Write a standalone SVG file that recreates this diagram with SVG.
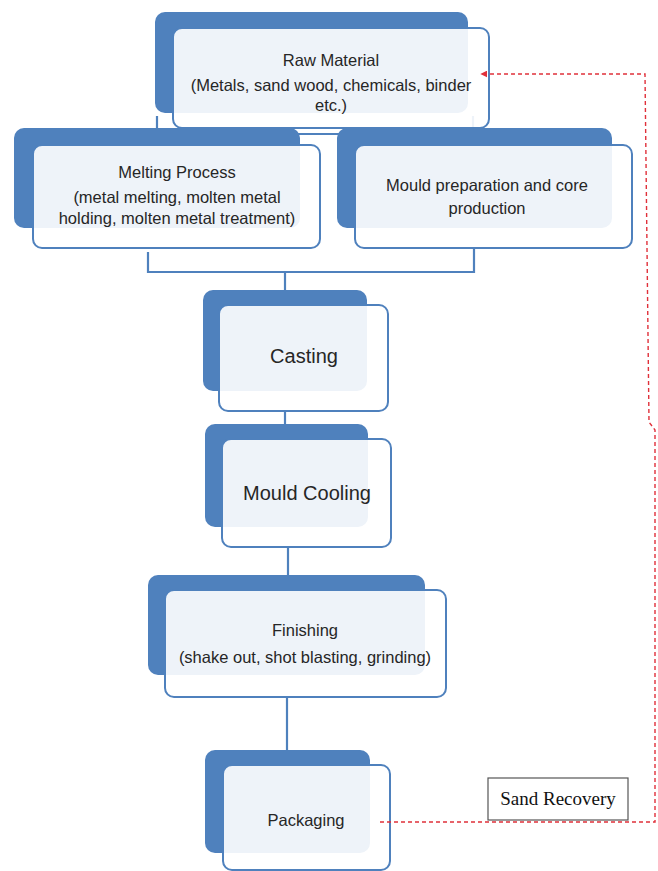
<svg xmlns="http://www.w3.org/2000/svg" width="658" height="871" viewBox="0 0 658 871">
<defs>
<style>
.back{fill:#4F81BD;}
.front{fill:#ffffff;fill-opacity:0.9;stroke:#4F81BD;stroke-width:2;}
.t{font-family:"Liberation Sans",Arial,sans-serif;font-size:16.5px;fill:#262626;text-anchor:middle;}
.tl{font-family:"Liberation Sans",Arial,sans-serif;font-size:20px;fill:#262626;text-anchor:middle;}
.tree{fill:none;stroke:#4F81BD;stroke-width:2.2;}
.fb{fill:none;stroke:#E0303A;stroke-width:1.4;stroke-dasharray:4 3;}
.sr{font-family:"Liberation Serif","Times New Roman",serif;font-size:19px;fill:#111;text-anchor:middle;}
</style>
<marker id="arr" viewBox="0 0 10 10" refX="9" refY="5" markerWidth="7" markerHeight="7" orient="auto" markerUnits="userSpaceOnUse">
<path d="M0,0 L10,5 L0,10 z" fill="#E0303A"/>
</marker>
</defs>
<rect width="658" height="871" fill="#ffffff"/>
<g id="connectors">
<path class="tree" d="M157,116 V134 H473 V116"/>
<path class="tree" d="M148,252 V272 H474 V248"/>
<path class="tree" d="M285,272 V292"/>
<path class="tree" d="M285,410 V426"/>
<path class="tree" d="M288,546 V577"/>
<path class="tree" d="M287,696 V752"/>
</g>
<g id="raw-material">
<rect class="back" x="155" y="12" width="313" height="101" rx="10"/>
<rect class="front" x="173" y="28" width="316" height="100" rx="9"/>
<text class="t" x="331" y="66">Raw Material</text>
<text class="t" x="331" y="91">(Metals, sand wood, chemicals, binder</text>
<text class="t" x="331" y="111">etc.)</text>
</g>
<g id="melting">
<rect class="back" x="14" y="128" width="286" height="100" rx="10"/>
<rect class="front" x="33" y="145" width="287" height="103" rx="9"/>
<text class="t" x="177" y="178">Melting Process</text>
<text class="t" x="177" y="203">(metal melting, molten metal</text>
<text class="t" x="177" y="224">holding, molten metal treatment)</text>
</g>
<g id="mould-prep">
<rect class="back" x="337" y="128" width="275" height="100" rx="10"/>
<rect class="front" x="355" y="145" width="277" height="103" rx="9"/>
<text class="t" x="487" y="191">Mould preparation and core</text>
<text class="t" x="487" y="214">production</text>
</g>
<g id="casting">
<rect class="back" x="203" y="290" width="164" height="101" rx="10"/>
<rect class="front" x="219" y="305" width="169" height="106" rx="9"/>
<text class="tl" x="304" y="363">Casting</text>
</g>
<g id="mould-cooling">
<rect class="back" x="205" y="424" width="163" height="103" rx="10"/>
<rect class="front" x="222" y="439" width="169" height="108" rx="9"/>
<text class="tl" x="307" y="500">Mould Cooling</text>
</g>
<g id="finishing">
<rect class="back" x="148" y="575" width="277" height="100" rx="10"/>
<rect class="front" x="165" y="590" width="281" height="107" rx="9"/>
<text class="t" x="305" y="636">Finishing</text>
<text class="t" x="305" y="663">(shake out, shot blasting, grinding)</text>
</g>
<g id="packaging">
<rect class="back" x="205" y="750" width="165" height="103" rx="10"/>
<rect class="front" x="223" y="765" width="167" height="105" rx="9"/>
<text class="t" x="306" y="826">Packaging</text>
</g>
<g id="sand-recovery">
<rect x="488" y="778" width="140" height="42" fill="#ffffff" stroke="#555555" stroke-width="1.2"/>
<text class="sr" x="558" y="805">Sand Recovery</text>
</g>
<g id="feedback-connector">
<path class="fb" d="M380,822 H655 V430 L649,422 L645,74 H481" marker-end="url(#arr)"/>
</g>
</svg>
